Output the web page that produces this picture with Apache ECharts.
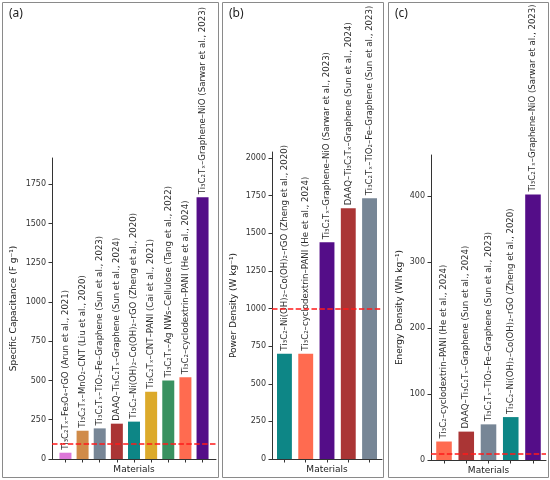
<!DOCTYPE html>
<html lang="en">
<head>
<meta charset="UTF-8">
<title>Ti3C2 supercapacitor comparison</title>
<script src="https://cdn.jsdelivr.net/npm/echarts@6/dist/echarts.min.js"></script>
<style>
  body { margin: 0; background: #fff; }
  #main { width: 550px; height: 480px; }
</style>
</head>
<body>
<div id="main"></div>
<script>
// (a) specific capacitance, F g-1
var capNames = [
  'Ti₃C₂Tₓ–Fe₃O₄–rGO (Arun et al., 2021)',
  'Ti₃C₂Tₓ–MnO₂–CNT (Liu et al., 2020)',
  'Ti₃C₂Tₓ–TiO₂–Fe–Graphene (Sun et al., 2023)',
  'DAAQ–Ti₃C₂Tₓ–Graphene (Sun et al., 2024)',
  'Ti₃C₂–Ni(OH)₂–Co(OH)₂–rGO (Zheng et al., 2020)',
  'Ti₃C₂Tₓ–CNT–PANI (Cai et al., 2021)',
  'Ti₃C₂Tₓ–Ag NWs–Cellulose (Tang et al., 2022)',
  'Ti₃C₂–cyclodextrin–PANI (He et al., 2024)',
  'Ti₃C₂Tₓ–Graphene–NiO (Sarwar et al., 2023)'
];
var capValues = [40, 180, 195, 225, 238, 428, 500, 520, 1667];
var capTicks = [0, 250, 500, 750, 1000, 1250, 1500, 1750];
var capRef = 100;

// (b) power density, W kg-1
var powNames = [
  'Ti₃C₂–Ni(OH)₂–Co(OH)₂–rGO (Zheng et al., 2020)',
  'Ti₃C₂–cyclodextrin–PANI (He et al., 2024)',
  'Ti₃C₂Tₓ–Graphene–NiO (Sarwar et al., 2023)',
  'DAAQ–Ti₃C₂Tₓ–Graphene (Sun et al., 2024)',
  'Ti₃C₂Tₓ–TiO₂–Fe–Graphene (Sun et al., 2023)'
];
var powValues = [700, 700, 1440, 1667, 1733];
var powTicks = [0, 250, 500, 750, 1000, 1250, 1500, 1750, 2000];
var powRef = 1000;

// (c) energy density, Wh kg-1
var engNames = [
  'Ti₃C₂–cyclodextrin–PANI (He et al., 2024)',
  'DAAQ–Ti₃C₂Tₓ–Graphene (Sun et al., 2024)',
  'Ti₃C₂Tₓ–TiO₂–Fe–Graphene (Sun et al., 2023)',
  'Ti₃C₂–Ni(OH)₂–Co(OH)₂–rGO (Zheng et al., 2020)',
  'Ti₃C₂Tₓ–Graphene–NiO (Sarwar et al., 2023)'
];
var engValues = [28, 43, 54, 65, 402];
var engTicks = [0, 100, 200, 300, 400];
var engRef = 10;

// bar colours (matplotlib named colours)
var capColors = ['#DA70D6', '#CD853F', '#708090', '#A52A2A', '#008080', '#DAA520', '#2E8B57', '#FF6347', '#4B0082'];
var powColors = ['#008080', '#FF6347', '#4B0082', '#A52A2A', '#708090'];
var engColors = ['#FF6347', '#A52A2A', '#708090', '#008080', '#4B0082'];

var FONT = 'DejaVu Sans';
var AXIS = '#333';

var panels = [
  { names: capNames, values: capValues, colors: capColors, ticks: capTicks, ref: capRef, yMax: 1917,
    yName: 'Specific Capacitance (F g⁻¹)', left: 52, top: 158, width: 164, height: 301, nameGap: 34 },
  { names: powNames, values: powValues, colors: powColors, ticks: powTicks, ref: powRef, yMax: 2040,
    yName: 'Power Density (W kg⁻¹)', left: 272, top: 152, width: 110, height: 307, nameGap: 34 },
  { names: engNames, values: engValues, colors: engColors, ticks: engTicks, ref: engRef, yMax: 462,
    yName: 'Energy Density (Wh kg⁻¹)', left: 431, top: 155, width: 115, height: 305, nameGap: 27 }
];

var grids = [], xAxes = [], yAxes = [], series = [];

panels.forEach(function (p, k) {
  var n = p.values.length;
  // matplotlib style x limits: bars of 0.7 plus 5% margin
  var pad = 0.35 + 0.05 * (n - 0.3);
  var xMin = -pad, xMax = n - 1 + pad;
  var barW = 0.7 * p.width / (xMax - xMin);

  grids.push({ left: p.left, top: p.top, width: p.width, height: p.height, outerBoundsMode: 'none' });

  xAxes.push({
    type: 'value', gridIndex: k, min: xMin, max: xMax,
    name: 'Materials', nameLocation: 'middle', nameGap: 6,
    nameTextStyle: { fontFamily: FONT, fontSize: 9, color: '#222', verticalAlign: 'top' },
    axisLine: { show: true, onZero: false, lineStyle: { color: AXIS, width: 1 } },
    axisTick: { show: true, length: 3.5, lineStyle: { color: AXIS },
      customValues: p.values.map(function (v, i) { return i; }) },
    axisLabel: { show: false },
    splitLine: { show: false }
  });

  yAxes.push({
    type: 'value', gridIndex: k, min: 0, max: p.yMax,
    name: p.yName, nameLocation: 'middle', nameGap: p.nameGap,
    nameTextStyle: { fontFamily: FONT, fontSize: 9, color: '#222' },
    axisLine: { show: true, onZero: false, lineStyle: { color: AXIS, width: 1 } },
    axisTick: { show: true, length: 3.5, lineStyle: { color: AXIS }, customValues: p.ticks },
    axisLabel: { fontFamily: FONT, fontSize: 8, color: '#333', margin: 6, customValues: p.ticks,
      formatter: function (v) { return String(v); } },
    splitLine: { show: false }
  });

  series.push({
    type: 'bar', xAxisIndex: k, yAxisIndex: k,
    barWidth: barW,
    data: p.values.map(function (v, i) {
      return { value: [i, v], name: p.names[i], itemStyle: { color: p.colors[i], opacity: 0.95 } };
    }),
    label: {
      show: true, position: 'top', rotate: 90, align: 'left', verticalAlign: 'middle',
      distance: 3, formatter: '{b}', fontFamily: FONT, fontSize: 8.6, color: '#222'
    },
    markLine: {
      silent: true, symbol: ['none', 'none'],
      label: { show: false },
      lineStyle: { color: '#ff1a1a', type: [5.5, 2.4], width: 1.5 },
      data: [{ yAxis: p.ref }]
    }
  });
});

var frames = [
  { x: 2, w: 216, tag: '(a)' },
  { x: 222, w: 161, tag: '(b)' },
  { x: 388, w: 160, tag: '(c)' }
];
var graphics = [];
frames.forEach(function (f) {
  graphics.push({
    type: 'rect', shape: { x: f.x + 0.5, y: 2.5, width: f.w, height: 475 },
    style: { fill: 'none', stroke: '#8a8a8a', lineWidth: 1 }, silent: true
  });
  graphics.push({
    type: 'text', x: f.x + 7, y: 8,
    style: { text: f.tag, fontFamily: 'Noto Sans', fontSize: 12, fill: '#222' }, silent: true
  });
});

var myChart = echarts.init(document.getElementById('main'));
myChart.setOption({
  animation: false,
  backgroundColor: '#fff',
  grid: grids,
  xAxis: xAxes,
  yAxis: yAxes,
  series: series,
  graphic: graphics
});
</script>
</body>
</html>
